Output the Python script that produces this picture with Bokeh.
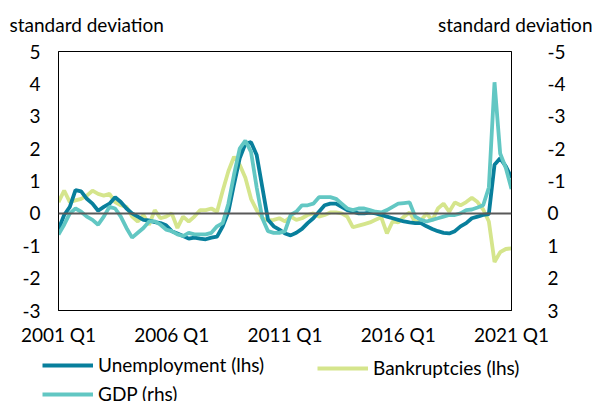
from bokeh.plotting import figure
from bokeh.models import Range1d, LinearAxis, FixedTicker, Span, Label, Legend, LegendItem
from bokeh.layouts import column
from bokeh.embed import file_html
from bokeh.resources import INLINE

# quarterly index 0 = 2001 Q1 ... 80 = 2021 Q1
tick_pos = [0, 20, 40, 60, 80]
tick_labels = ["2001 Q1", "2006 Q1", "2011 Q1", "2016 Q1", "2021 Q1"]

unemployment = [-0.5, -0.05, 0.2, 0.72, 0.68, 0.45, 0.3, 0.08, 0.2, 0.3,
                0.5, 0.35, 0.15, 0.0, -0.1, -0.2, -0.22, -0.27, -0.3, -0.37,
                -0.55, -0.62, -0.7, -0.78, -0.75, -0.78, -0.8, -0.75, -0.72, -0.4,
                0.05, 0.9, 1.7, 2.15, 2.2, 1.8, 0.8, -0.2, -0.4, -0.5,
                -0.62, -0.68, -0.6, -0.48, -0.3, -0.15, 0.05, 0.25, 0.3, 0.3,
                0.2, 0.1, 0.05, 0.0, 0.0, 0.02, 0.0, -0.05, -0.1, -0.15,
                -0.2, -0.25, -0.28, -0.3, -0.3, -0.4, -0.48, -0.55, -0.6, -0.62,
                -0.55, -0.4, -0.3, -0.15, -0.1, -0.05, -0.02, 1.5, 1.7, 1.45, 1.1]

bankruptcies = [0.35, 0.7, 0.35, 0.4, 0.45, 0.55, 0.7, 0.6, 0.55, 0.6,
                0.35, 0.25, 0.2, -0.1, -0.25, -0.05, -0.35, 0.1, -0.15, -0.1,
                0.0, -0.45, -0.1, -0.25, -0.1, 0.1, 0.1, 0.15, 0.05, 0.7,
                1.3, 1.75, 1.5, 1.1, 0.45, 0.1, -0.15, -0.22, -0.2, -0.15,
                -0.25, -0.1, -0.2, -0.15, -0.05, 0.0, -0.1, -0.05, 0.03, 0.03,
                0.0, -0.1, -0.43, -0.38, -0.33, -0.28, -0.2, -0.12, -0.62, -0.25,
                -0.28, -0.1, 0.03, -0.27, -0.22, 0.0, -0.22, 0.15, 0.3, 0.05,
                0.34, 0.25, 0.35, 0.48, 0.35, 0.12, -0.25, -1.5, -1.2, -1.1, -1.08]

# GDP on the right-hand (inverted) axis
gdp = [0.65, 0.35, 0.0, -0.15, -0.05, 0.1, 0.2, 0.35, 0.1, -0.2,
       -0.15, 0.1, 0.45, 0.75, 0.6, 0.45, 0.25, 0.25, 0.35, 0.5,
       0.55, 0.65, 0.7, 0.6, 0.65, 0.65, 0.65, 0.6, 0.4, 0.3,
       -0.3, -1.2, -2.0, -2.25, -1.9, -0.8, 0.15, 0.55, 0.6, 0.6,
       0.55, 0.05, -0.05, -0.25, -0.25, -0.3, -0.5, -0.5, -0.5, -0.45,
       -0.3, -0.15, -0.1, -0.15, -0.15, -0.1, -0.05, -0.03, -0.1, -0.2,
       -0.3, -0.32, -0.34, 0.1, 0.2, 0.25, 0.2, 0.15, 0.1, 0.05,
       0.05, 0.0, -0.1, -0.12, -0.18, -0.25, -0.8, -4.05, -1.85, -1.4, -0.75]

series = ["Unemployment (lhs)", "Bankruptcies (lhs)", "GDP (rhs)"]
series_values = [unemployment, bankruptcies, gdp]
colors = ["#087f9c", "#d5e58c", "#62c7c3"]
axis_title = "standard deviation"

x = list(range(len(unemployment)))

FONT = "Lato"
FS = "19px"
LW = 3.8
W = 595
TOP_H, MAIN_H, BOT_H = 40, 310, 51


def no_align(f):
    try:
        f.frame_align = False
    except Exception:
        pass


def blank(h):
    f = figure(width=W, height=h, output_backend="svg", toolbar_location=None,
               x_range=Range1d(0, W), y_range=Range1d(h, 0),
               x_axis_location=None, y_axis_location=None,
               min_border_left=0, min_border_right=0, min_border_top=0, min_border_bottom=0)
    f.title.visible = False
    f.outline_line_color = None
    f.xgrid.visible = False
    f.ygrid.visible = False
    no_align(f)
    return f


# ---- header with the two axis titles ----
top = blank(TOP_H)
top.add_layout(Label(x=9, y=24, text=axis_title, text_font=FONT, text_font_size=FS,
                     text_color="#000000", text_baseline="middle", text_align="left"))
top.add_layout(Label(x=592, y=24, text=axis_title, text_font=FONT, text_font_size=FS,
                     text_color="#000000", text_baseline="middle", text_align="right"))

# ---- main chart ----
p = figure(width=W, height=MAIN_H, output_backend="svg", toolbar_location=None,
           x_range=Range1d(0, 80), y_range=Range1d(-3, 5),
           min_border_left=58, min_border_right=84, min_border_top=51 - TOP_H,
           min_border_bottom=TOP_H + MAIN_H - 310)
no_align(p)
p.title.visible = False
p.extra_y_ranges = {"rhs": Range1d(start=3, end=-5)}
p.outline_line_color = "#000000"
p.outline_line_width = 1
p.xgrid.visible = False
p.ygrid.visible = False

p.xaxis.ticker = FixedTicker(ticks=tick_pos)
p.xaxis.major_label_overrides = {t: l for t, l in zip(tick_pos, tick_labels)}
p.yaxis.ticker = FixedTicker(ticks=list(range(-3, 6)))
p.yaxis.major_label_overrides = {v: str(v) for v in range(-3, 6)}

rax = LinearAxis(y_range_name="rhs", ticker=FixedTicker(ticks=list(range(-5, 4))))
rax.major_label_overrides = {v: str(v) for v in range(-5, 4)}
p.add_layout(rax, "right")

for ax in [p.xaxis[0], p.yaxis[0], rax]:
    ax.axis_line_color = "#000000"
    ax.axis_line_width = 1
    ax.major_tick_line_color = None
    ax.minor_tick_line_color = None
    ax.major_label_text_font = FONT
    ax.major_label_text_font_size = FS
    ax.major_label_text_color = "#000000"
p.yaxis[0].major_label_standoff = 12
rax.major_label_standoff = 30
p.xaxis[0].major_label_standoff = 6

p.add_layout(Span(location=0, dimension="width", line_color="#595959", line_width=2))

p.line(x, bankruptcies, line_color=colors[1], line_width=LW)
p.line(x, unemployment, line_color=colors[0], line_width=LW)
p.line(x, gdp, line_color=colors[2], line_width=LW, y_range_name="rhs")

# ---- legend strip (key renderers sit on a range that keeps them out of view) ----
bot = blank(BOT_H)
bot.extra_y_ranges = {"off": Range1d(100, 200)}
keys = [bot.line(x, vals, line_color=c, line_width=LW, y_range_name="off")
        for vals, c in zip(series_values, colors)]


def mk_legend(idx, loc):
    return Legend(items=[LegendItem(label=series[i], renderers=[keys[i]]) for i in idx],
                  location=loc, orientation="vertical",
                  label_text_font=FONT, label_text_font_size=FS, label_text_color="#000000",
                  glyph_width=51, glyph_height=20, label_height=20, label_standoff=5,
                  spacing=6, padding=0, margin=0, border_line_color=None,
                  background_fill_alpha=0)


bot.add_layout(mk_legend([0, 2], (42, BOT_H - 55)))
bot.add_layout(mk_legend([1], (317, BOT_H - 29)))

layout = column(top, p, bot, spacing=0)
open("out.html", "w").write(file_html(layout, INLINE))
